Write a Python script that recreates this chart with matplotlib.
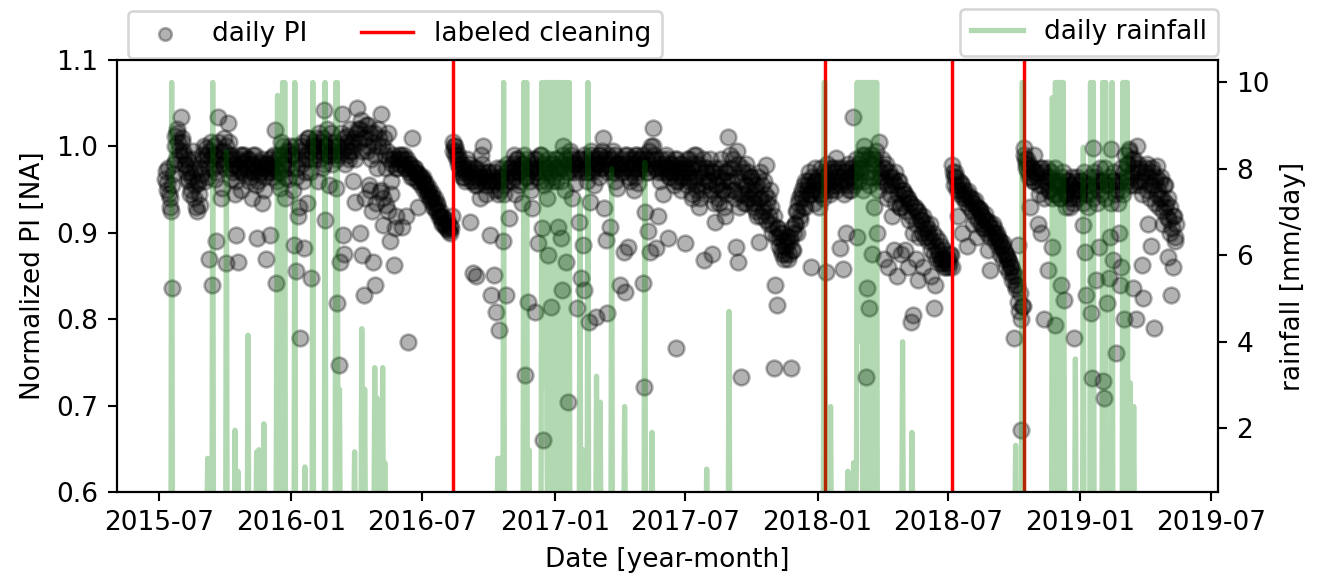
import numpy as np
import pandas as pd
import matplotlib
matplotlib.use("Agg")
import matplotlib.pyplot as plt
import matplotlib.dates as mdates

nan = np.nan

# daily PI, one row per month
# *_odd rows hold days 1, 3, 5, ...; *_even rows hold days 2, 4, 6, ...
pi_2015_odd = [  # Jul .. Dec
    [nan, nan, nan, nan, nan, 0.972, 0.958, 0.945, 0.93, 0.836, 0.968, 1.012, 0.985, 1.02, 0.996],
    [1.034, 1.005, 0.99, 0.978, 0.985, 0.962, 0.97, 0.95, 0.995, 0.94, 0.975, 0.925, 0.958, 0.932, 0.968],
    [0.985, 0.96, 0.998, 0.975, 0.87, 1.005, 0.84, 0.99, 0.962, 0.89, 1.034, 0.978, 0.995, 0.952, 1.01],
    [0.975, 0.865, 1.027, 0.99, 0.962, 0.985, 0.978, 0.945, 0.897, 0.866, 0.972, 0.95, 0.99, 0.968, 0.982],
    [0.985, 0.96, 0.972, 0.94, 0.99, 0.978, 0.955, 0.894, 0.968, 0.982, 0.935, 0.975, 0.965, 0.87, 0.98],
    [0.975, 0.897, 0.988, 0.965, 1.019, 0.842, 0.97, 0.99, 0.952, 0.98, 1.0, 0.94, 0.975, 0.962, 0.995],
]
pi_2015_even = [
    [nan, nan, nan, nan, 0.962, 0.95, 0.975, 0.94, 0.925, 0.955, 0.98, 1.0, 1.015, 1.005, 0.99],
    [1.01, 0.995, 0.98, 0.97, 0.96, 0.975, 0.945, 0.965, 0.985, 0.955, 0.93, 0.96, 0.945, 0.975, 0.99],
    [1.0, 0.98, 0.99, 0.965, 0.995, 0.985, 0.975, 1.0, 0.97, 0.99, 1.005, 0.985, 0.94, 0.98, 0.995],
    [1.0, 0.985, 1.005, 0.975, 0.99, 0.97, 0.98, 0.96, 0.985, 0.975, 0.99, 0.97, 0.98, 0.99, 0.975],
    [0.975, 0.985, 0.965, 0.98, 0.97, 0.99, 0.975, 0.96, 0.98, 0.97, 0.985, 0.95, 0.975, 0.98, 0.97],
    [0.985, 0.97, 0.98, 0.99, 0.975, 0.96, 0.985, 0.97, 1.005, 0.99, 0.98, 0.965, 0.995, 0.985, 1.0],
]
pi_2016_odd = [
    [0.99, 0.95, 0.886, 0.856, 0.975, 0.92, 0.778, 1.0, 0.96, 0.882, 0.985, 0.935, 1.01, 0.97, 0.848],
    [1.0, 0.985, 1.01, 0.96, 0.995, 1.005, 0.975, 1.042, 0.915, 1.0, 0.99, 0.955, 1.015, 0.98, 0.995],
    [0.99, 0.952, 0.819, 0.747, 0.866, 1.038, 0.897, 0.876, 1.0, 1.012, 0.985, 0.995, 1.005, 0.96, 0.936],
    [1.044, 1.02, 0.9, 1.03, 0.874, 0.828, 1.01, 0.995, 1.025, 0.95, 0.985, 0.866, 1.015, 0.84, 0.975],
    [1.02, 0.947, 1.038, 0.909, 1.01, 0.932, 0.995, 1.015, 0.89, 0.96, 0.985, 0.863, 0.92, 0.975, 0.99],
    [0.99, 0.907, 0.985, 0.975, 0.92, 0.774, 0.98, 0.965, 1.01, 0.97, 0.975, 0.96, 0.93, 0.968, 0.955],
    [0.962, 0.958, 0.955, 0.95, 0.948, 0.945, 0.94, 0.942, 0.935, 0.93, 0.932, 0.925, 0.92, 0.918, 0.912],
    [0.91, 0.905, 0.915, 0.902, 0.908, 0.92, 1.005, 1.0, 0.995, 0.99, 0.985, 0.975, 0.98, 0.965, 0.97],
    [0.985, 0.97, 0.912, 0.96, 0.853, 0.975, 0.85, 0.955, 0.965, 0.94, 0.99, 1.0, 0.96, 0.945, 0.97],
    [0.97, 0.897, 0.828, 0.96, 0.851, 0.808, 0.975, 0.788, 0.95, 0.965, 0.89, 0.945, 0.828, 0.98, 0.917],
    [0.975, 0.96, 0.99, 0.945, 0.985, 0.97, 0.955, 0.98, 0.935, 0.99, 0.735, 0.965, 0.82, 0.975, 0.95],
    [0.929, 0.985, 0.808, 0.97, 0.888, 0.96, 0.99, 0.66, 0.955, 0.975, 0.94, 0.874, 0.98, 0.814, 0.965],
]
pi_2016_even = [
    [0.975, 0.99, 1.0, 0.965, 0.985, 0.93, 0.995, 0.98, 1.005, 0.97, 0.99, 1.01, 0.985, 0.995, 1.0],
    [1.005, 0.99, 1.0, 1.015, 0.985, 0.995, 1.01, 0.98, 1.0, 1.02, 0.99, 1.005, 0.995, 1.0],
    [1.005, 0.985, 1.0, 0.99, 1.015, 0.995, 1.01, 0.98, 1.005, 0.99, 1.02, 1.0, 0.995, 1.01, 0.985],
    [1.015, 1.005, 1.02, 0.995, 1.01, 0.94, 1.025, 1.0, 0.955, 1.015, 0.925, 1.005, 0.99, 0.935, 1.0],
    [1.01, 0.95, 1.0, 0.94, 0.99, 0.975, 0.925, 0.985, 0.945, 0.98, 0.99, 0.905, 0.975, 0.985, 0.98],
    [0.985, 0.98, 0.99, 0.975, 0.985, 0.97, 0.98, 0.975, 0.965, 0.975, 0.97, 0.968, 0.96, 0.965, 0.962],
    [0.965, 0.95, 0.958, 0.944, 0.952, 0.938, 0.946, 0.93, 0.94, 0.925, 0.935, 0.918, 0.925, 0.91, 0.918],
    [0.908, 0.912, 0.904, 0.9, 0.906, 0.995, 1.0, 0.99, 0.985, 0.98, 0.975, 0.97, 0.965, 0.975, 0.96],
    [0.975, 0.98, 0.965, 0.97, 0.96, 0.955, 0.975, 0.97, 0.96, 0.965, 0.98, 0.97, 0.965, 0.955, 0.96],
    [0.96, 0.955, 0.965, 0.97, 0.95, 0.96, 0.945, 0.965, 0.96, 0.975, 0.955, 0.965, 0.97, 0.96, 0.975],
    [0.97, 0.98, 0.965, 0.975, 0.985, 0.97, 0.96, 0.975, 0.98, 0.965, 0.975, 0.985, 0.97, 0.96, 0.975],
    [0.98, 0.97, 0.985, 0.965, 0.975, 0.99, 0.905, 0.98, 0.97, 0.96, 0.985, 0.975, 0.97, 0.96, 0.98],
]
pi_2017_odd = [
    [0.985, 0.96, 0.907, 0.975, 0.894, 0.834, 1.0, 0.95, 0.866, 0.704, 0.97, 0.99, 0.94, 0.98, 0.958],
    [0.813, 0.912, 0.985, 0.848, 0.886, 0.834, 0.97, 0.96, 0.797, 0.936, 0.99, 0.975, 0.955, 0.803],
    [0.98, 0.965, 0.99, 0.975, 1.01, 0.929, 0.892, 0.807, 0.985, 0.907, 0.97, 0.995, 0.96, 0.98, 0.952],
    [0.84, 0.98, 0.97, 0.878, 0.831, 0.99, 0.883, 0.96, 0.975, 0.985, 0.95, 0.965, 0.99, 0.958, 0.978],
    [0.985, 0.842, 0.722, 0.924, 0.97, 0.902, 0.878, 1.0, 1.021, 0.99, 0.882, 0.975, 0.92, 0.96, 0.985],
    [0.945, 0.975, 0.99, 0.894, 0.965, 0.98, 0.97, 0.955, 0.985, 0.767, 0.96, 0.975, 0.95, 0.98, 0.965],
    [0.888, 0.985, 0.97, 0.96, 0.975, 0.94, 0.99, 0.965, 0.955, 0.98, 0.93, 0.97, 0.95, 0.869, 0.975],
    [0.975, 0.96, 0.945, 0.876, 0.97, 0.912, 0.955, 0.965, 0.935, 0.975, 0.95, 0.96, 0.92, 0.97, 1.011],
    [0.99, 0.96, 0.975, 0.95, 0.884, 0.995, 0.866, 0.945, 0.733, 0.97, 0.935, 0.98, 0.955, 0.94, 0.965],
    [0.965, 0.945, 0.93, 0.955, 0.92, 0.889, 0.97, 0.94, 0.925, 0.96, 0.978, 0.935, 0.91, 0.95, 0.9],
    [0.743, 0.84, 0.817, 0.905, 0.895, 0.88, 0.9, 0.885, 0.875, 0.89, 0.87, 0.895, 0.743, 0.88, 0.9],
    [0.91, 0.925, 0.935, 0.92, 0.945, 0.94, 0.955, 0.93, 0.95, 0.96, 0.945, 0.86, 0.955, 0.935, 0.96],
]
pi_2017_even = [
    [0.975, 0.985, 0.97, 0.98, 0.96, 0.99, 0.975, 0.985, 0.97, 0.98, 0.995, 0.975, 0.985, 0.97, 0.98],
    [0.975, 0.985, 0.97, 0.98, 0.99, 0.975, 0.985, 0.97, 0.98, 0.995, 0.97, 0.985, 0.975, 0.98],
    [0.985, 0.99, 0.975, 0.995, 0.98, 0.985, 0.97, 0.99, 0.98, 0.975, 0.985, 0.97, 0.99, 0.975, 0.98],
    [0.975, 0.985, 0.97, 0.99, 0.98, 0.975, 0.965, 0.985, 0.97, 0.98, 0.99, 0.975, 0.97, 0.985, 0.975],
    [0.98, 0.99, 0.975, 0.985, 0.97, 0.995, 0.98, 0.985, 1.0, 0.975, 0.985, 0.97, 0.98, 0.975, 0.97],
    [0.98, 0.97, 0.985, 0.975, 0.965, 0.98, 0.97, 0.975, 0.96, 0.985, 0.97, 0.98, 0.965, 0.975, 0.97],
    [0.975, 0.955, 0.985, 0.965, 0.945, 0.98, 0.96, 0.99, 0.95, 0.975, 0.94, 0.965, 0.985, 0.955, 0.97],
    [0.96, 0.985, 0.95, 0.97, 0.935, 0.975, 0.955, 0.94, 0.965, 0.985, 0.95, 0.93, 0.97, 0.945, 0.96],
    [0.975, 0.95, 0.985, 0.94, 0.965, 0.98, 0.93, 0.96, 0.975, 0.945, 0.955, 0.935, 0.97, 0.95, 0.94],
    [0.96, 0.935, 0.95, 0.925, 0.965, 0.94, 0.92, 0.955, 0.93, 0.945, 0.915, 0.94, 0.92, 0.93, 0.91],
    [0.92, 0.895, 0.905, 0.885, 0.9, 0.875, 0.89, 0.87, 0.885, 0.895, 0.875, 0.89, 0.905, 0.88, 0.91],
    [0.925, 0.9, 0.94, 0.915, 0.95, 0.93, 0.96, 0.94, 0.955, 0.97, 0.945, 0.965, 0.95, 0.975, 0.96],
]
pi_2018_odd = [
    [0.95, 0.93, 0.945, 0.96, 0.94, 0.965, 0.855, 0.958, 0.97, 0.95, 0.96, 0.975, 0.955, 0.987, 0.965],
    [0.882, 0.96, 0.858, 0.97, 0.9, 0.955, 0.965, 0.975, 0.95, 1.034, 0.96, 0.97, 0.895, 0.98],
    [0.97, 0.99, 0.95, 1.0, 0.733, 0.836, 0.813, 0.965, 0.875, 0.985, 0.93, 0.995, 0.9, 1.005, 0.96],
    [0.985, 0.87, 0.975, 0.94, 0.86, 0.965, 0.955, 0.92, 0.88, 0.97, 0.85, 0.96, 0.93, 0.875, 0.95],
    [0.945, 0.88, 0.94, 0.86, 0.935, 0.797, 0.805, 0.93, 0.87, 0.925, 0.845, 0.92, 0.915, 0.86, 0.905],
    [0.91, 0.9, 0.895, 0.85, 0.89, 0.813, 0.84, 0.885, 0.88, 0.875, 0.87, 0.865, 0.86, 0.87, 0.865],
    [0.87, 0.86, 0.874, 0.978, 0.965, 0.97, 0.955, 0.92, 0.95, 0.958, 0.9, 0.945, 0.94, 0.885, 0.948],
    [0.94, 0.935, 0.91, 0.938, 0.93, 0.895, 0.928, 0.925, 0.92, 0.905, 0.922, 0.915, 0.88, 0.912, 0.857],
    [0.91, 0.905, 0.9, 0.9, 0.895, 0.89, 0.885, 0.888, 0.88, 0.875, 0.872, 0.868, 0.865, 0.86, 0.855],
    [0.778, 0.85, 0.84, 0.886, 0.83, 0.672, 0.815, 0.998, 0.98, 0.985, 0.965, 0.93, 0.975, 0.96, 0.99],
    [0.97, 0.91, 0.955, 0.9, 0.975, 0.8, 0.96, 0.965, 0.857, 0.95, 0.97, 0.884, 0.945, 0.793, 0.96],
    [0.955, 0.94, 0.84, 0.965, 0.822, 0.95, 0.945, 0.96, 0.93, 0.955, 0.94, 0.778, 0.95, 0.965, 0.945],
]
pi_2018_even = [
    [0.965, 0.945, 0.975, 0.955, 0.97, 0.95, 0.98, 0.96, 0.945, 0.975, 0.955, 0.97, 0.95, 0.965, 0.975],
    [0.955, 0.975, 0.945, 0.97, 0.96, 0.98, 0.95, 0.965, 0.975, 0.955, 0.97, 0.985, 0.96, 0.975],
    [0.975, 0.985, 0.96, 0.99, 0.97, 0.985, 0.955, 0.99, 0.98, 0.965, 0.985, 0.975, 0.95, 0.97, 0.965],
    [0.975, 0.96, 0.98, 0.955, 0.97, 0.945, 0.965, 0.96, 0.935, 0.955, 0.945, 0.96, 0.93, 0.95, 0.935],
    [0.945, 0.925, 0.94, 0.915, 0.935, 0.92, 0.9, 0.93, 0.91, 0.925, 0.895, 0.915, 0.9, 0.92, 0.895],
    [0.905, 0.89, 0.91, 0.88, 0.9, 0.875, 0.895, 0.87, 0.89, 0.865, 0.885, 0.87, 0.88, 0.86, 0.875],
    [0.865, 0.875, 0.86, 0.97, 0.955, 0.965, 0.95, 0.96, 0.945, 0.955, 0.94, 0.95, 0.935, 0.945, 0.93],
    [0.94, 0.925, 0.935, 0.92, 0.93, 0.915, 0.928, 0.91, 0.92, 0.905, 0.915, 0.9, 0.91, 0.895, 0.905],
    [0.9, 0.89, 0.895, 0.885, 0.89, 0.875, 0.885, 0.87, 0.875, 0.86, 0.87, 0.855, 0.86, 0.845, 0.85],
    [0.84, 0.835, 0.82, 0.81, 0.8, 0.815, 0.99, 0.985, 0.975, 0.97, 0.98, 0.965, 0.975, 0.96, 0.97],
    [0.965, 0.945, 0.975, 0.955, 0.97, 0.94, 0.96, 0.975, 0.95, 0.965, 0.94, 0.96, 0.975, 0.945, 0.955],
    [0.96, 0.94, 0.955, 0.97, 0.945, 0.93, 0.96, 0.94, 0.955, 0.965, 0.935, 0.95, 0.96, 0.94, 0.955],
]
pi_2019_odd = [  # Jan .. May
    [0.95, 0.96, 0.909, 0.878, 0.828, 0.945, 0.955, 0.807, 0.732, 0.998, 0.965, 0.845, 0.95, 0.884, 0.96],
    [0.728, 0.709, 0.955, 0.819, 0.848, 0.895, 0.997, 0.868, 0.96, 0.761, 0.95, 0.9, 0.84, 0.86],
    [0.945, 0.8, 0.965, 0.98, 0.997, 0.955, 0.97, 0.836, 0.985, 0.8, 1.0, 0.975, 0.96, 0.863, 0.825],
    [0.97, 0.98, 0.91, 0.955, 0.885, 0.975, 0.79, 0.96, 0.977, 0.95, 0.94, 0.965, 0.91, 0.955, 0.93],
    [0.918, 0.872, 0.9, 0.828, 0.86, 0.92, 0.89],
]
pi_2019_even = [
    [0.96, 0.935, 0.97, 0.945, 0.955, 0.93, 0.965, 0.95, 0.94, 0.97, 0.955, 0.935, 0.96, 0.975, 0.945],
    [0.96, 0.975, 0.94, 0.955, 0.965, 0.935, 0.96, 0.97, 0.945, 0.955, 0.935, 0.96, 0.975, 0.95],
    [0.97, 0.99, 0.96, 0.98, 0.995, 0.965, 0.985, 0.955, 0.975, 0.96, 0.98, 0.955, 0.97, 0.945, 0.96],
    [0.975, 0.95, 0.965, 0.94, 0.97, 0.955, 0.935, 0.965, 0.945, 0.93, 0.96, 0.94, 0.925, 0.955, 0.935],
    [0.94, 0.915, 0.93, 0.905, 0.92, 0.895, 0.91],
]

# rainy days [mm/day]; all other days are dry
rain_dates = [
    '2015-07-19', '2015-09-07', '2015-09-14', '2015-10-03', '2015-10-15', '2015-10-19',
    '2015-11-02', '2015-11-14', '2015-11-17', '2015-11-24', '2015-12-12', '2015-12-13',
    '2015-12-20', '2015-12-23', '2016-01-06', '2016-01-20', '2016-01-31', '2016-02-17',
    '2016-03-03', '2016-03-05', '2016-03-08', '2016-03-29', '2016-04-08', '2016-04-12',
    '2016-04-26', '2016-04-29', '2016-05-07', '2016-05-10',
    '2016-10-14', '2016-10-17', '2016-10-22', '2016-11-19', '2016-11-23', '2016-11-26',
    '2016-12-14', '2016-12-15', '2016-12-16', '2016-12-17', '2016-12-18', '2016-12-19',
    '2016-12-20', '2016-12-21', '2016-12-23', '2016-12-24', '2016-12-26', '2016-12-28',
    '2016-12-29', '2016-12-31', '2017-01-02', '2017-01-03', '2017-01-05', '2017-01-07',
    '2017-01-08', '2017-01-10', '2017-01-12', '2017-01-13', '2017-01-15', '2017-01-17',
    '2017-01-19', '2017-01-21', '2017-02-05', '2017-02-09', '2017-02-16', '2017-02-28',
    '2017-03-05', '2017-03-21', '2017-04-08', '2017-05-06', '2017-05-16', '2017-07-31',
    '2017-08-31', '2018-01-10', '2018-01-11', '2018-01-19', '2018-02-12', '2018-02-20',
    '2018-02-24', '2018-02-25', '2018-02-26', '2018-02-27', '2018-02-28', '2018-03-01',
    '2018-03-02', '2018-03-03', '2018-03-04', '2018-03-06', '2018-03-07', '2018-03-08',
    '2018-03-10', '2018-03-11', '2018-03-12', '2018-03-14', '2018-03-15', '2018-03-16',
    '2018-03-18', '2018-03-19', '2018-03-20', '2018-03-22', '2018-03-24', '2018-04-29',
    '2018-05-12', '2018-10-03', '2018-10-12', '2018-10-13', '2018-11-23', '2018-11-27',
    '2018-11-28', '2018-11-29', '2018-12-01', '2018-12-03', '2018-12-04', '2018-12-06',
    '2018-12-08', '2018-12-09', '2018-12-25', '2019-01-05', '2019-01-15', '2019-01-17',
    '2019-01-19', '2019-02-01', '2019-02-03', '2019-02-05', '2019-02-14', '2019-03-01',
    '2019-03-03', '2019-03-05', '2019-03-07', '2019-03-11', '2019-03-16',
]
rain_mm = [
    10, 1.3, 10, 8.4, 1.95, 1.0,
    4.15, 1.45, 1.5, 2.1, 4.6, 9.7,
    10, 10, 10, 1.1, 10, 10,
    10, 10, 2.9, 1.45, 4.3, 2.9,
    3.4, 2.7, 3.4, 1.2,
    1.3, 1.3, 10, 10, 10, 1.5,
    10, 3, 10, 5, 10, 8,
    10, 2, 10, 6, 10, 10,
    4, 7, 10, 6, 10, 10,
    3, 10, 10, 7, 9, 10,
    5, 10, 7.3, 1.5, 10, 3.2,
    2.6, 8.0, 2.5, 8.15, 1.9, 1.05,
    4.7, 10, 10, 2.5, 1.0, 1.2,
    1.2, 10, 4, 10, 10, 6,
    10, 9.3, 10, 10, 8.9, 10,
    10, 5, 10, 10, 7, 10,
    10, 3, 10, 10, 10, 4.0,
    1.9, 1.6, 10, 10, 9.65, 10,
    10, 10, 7, 10, 10, 10,
    10, 6, 3.6, 8.5, 10, 10,
    10, 10, 10, 10, 10, 10,
    10, 10, 10, 3.05, 2.5,
]

cleaning_dates = ['2016-08-12', '2018-01-11', '2018-07-07', '2018-10-14']


def month_rows(year, first_month, rows, first_day):
    dates, vals = [], []
    for k, row in enumerate(rows):
        start = pd.Timestamp(year, first_month + k, first_day)
        for i, v in enumerate(row):
            dates.append(start + pd.Timedelta(days=2 * i))
            vals.append(v)
    return dates, vals


pi_dates, pi_vals = [], []
blocks = [(2015, 7, pi_2015_odd, pi_2015_even), (2016, 1, pi_2016_odd, pi_2016_even),
          (2017, 1, pi_2017_odd, pi_2017_even), (2018, 1, pi_2018_odd, pi_2018_even),
          (2019, 1, pi_2019_odd, pi_2019_even)]
for year, first, odd, even in blocks:
    for rows, day0 in [(odd, 1), (even, 2)]:
        d, v = month_rows(year, first, rows, day0)
        pi_dates += d
        pi_vals += v

days = pd.date_range('2015-07-01', '2019-05-20', freq='D')
rain = pd.Series(0.0, index=days)
rain[pd.to_datetime(rain_dates)] = rain_mm

fig = plt.figure(figsize=(1317 / 190, 575 / 190), dpi=190)
ax1 = fig.add_axes([0.0888, 0.1443, 0.836, 0.7514])
ax2 = ax1.twinx()

ax1.scatter(pi_dates, pi_vals, s=36, c='k', alpha=0.3, linewidths=1.0, label='daily PI')
for i, cd in enumerate(cleaning_dates):
    ax1.axvline(pd.Timestamp(cd), color='red', lw=1.3,
                label='labeled cleaning' if i == 0 else None)

ax2.plot(rain.index, rain.values, color='green', alpha=0.3, lw=2.0, label='daily rainfall')

ax1.set_xlim(pd.Timestamp('2015-05-04'), pd.Timestamp('2019-07-11'))
ax1.set_ylim(0.6, 1.1)
ax2.set_ylim(0.52, 10.52)
ax1.xaxis.set_major_locator(mdates.MonthLocator(bymonth=[1, 7]))
ax1.xaxis.set_major_formatter(mdates.DateFormatter('%Y-%m'))

ax1.set_xlabel('Date [year-month]')
ax1.set_ylabel('Normalized PI [NA]')
ax2.set_ylabel('rainfall [mm/day]')

ax1.legend(loc='lower left', bbox_to_anchor=(0.01, 1.005), ncol=2, borderaxespad=0,
           markerscale=0.8)
ax2.legend(loc='lower right', bbox_to_anchor=(1.0, 1.01), borderaxespad=0)

fig.savefig('out.png', dpi=190)
